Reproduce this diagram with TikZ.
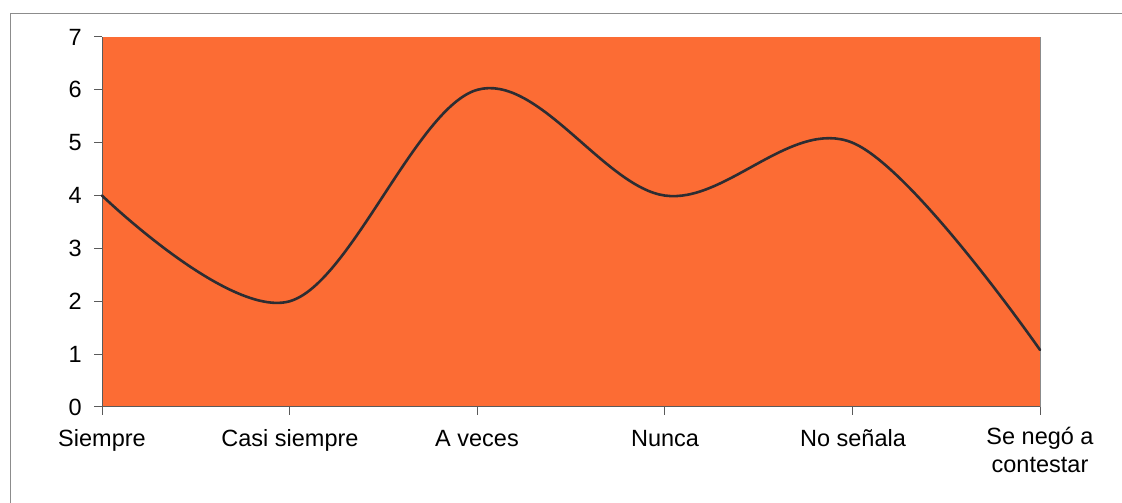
\documentclass[tikz,border=0pt]{standalone}
\usepackage{fontspec}
\setmainfont{Liberation Sans}
\definecolor{plotfill}{RGB}{252,108,52}
\definecolor{axisgray}{RGB}{90,90,90}
\definecolor{curvecol}{RGB}{45,45,50}
\definecolor{framegray}{RGB}{140,140,140}
\begin{document}
\begin{tikzpicture}[x=1pt,y=1pt,
  lbl/.style={font=\fontsize{23.5}{28}\selectfont, text=black, inner sep=0pt},
  tickline/.style={draw=axisgray, line width=1pt},
  curveline/.style={draw=curvecol, line width=2.6pt, line cap=round}]
\useasboundingbox (0,0) rectangle (1122,503);
% outer frame (top and left edges)
\draw[framegray, line width=1pt] (10,0) -- (10,489) -- (1122,489);
% plot area  (x: 102..1040, y0=96, unit 52.86)
\def\ux{187.6}
\def\uy{52.86}
\fill[plotfill] (102,96) rectangle (1040,466);
\draw[axisgray, line width=1pt] (102,466) -- (102,96) -- (1040,96);
\draw[axisgray!70, line width=0.8pt] (1040,96) -- (1040,466);
% y ticks and labels
\foreach \v in {0,...,7}{
  \draw[tickline] (94,{96+\v*\uy}) -- (102,{96+\v*\uy});
  \node[lbl, anchor=east] (y\v) at (82,{96+\v*\uy}) {\v};
}
% x ticks
\foreach \i in {0,...,5}{
  \draw[tickline] ({102+\i*\ux},88) -- ({102+\i*\ux},96);
}
% category labels
\node[lbl, anchor=base] (c0) at (102,56) {Siempre};
\node[lbl, anchor=base] (c1) at (290,56) {Casi siempre};
\node[lbl, anchor=base] (c2) at (477,56) {A veces};
\node[lbl, anchor=base] (c3) at (665,56) {Nunca};
\node[lbl, anchor=base] (c4) at (853,56) {No señala};
\node[lbl, anchor=base, align=center] (c5) at (1040,30) {Se negó a\\contestar};
% curve
\draw[curveline] plot[smooth, tension=0.58] coordinates {
  (102,{96+4*\uy}) (289.6,{96+2*\uy}) (477.2,{96+6*\uy})
  (664.8,{96+4*\uy}) (852.4,{96+5*\uy}) (1040,{96+1.08*\uy})};
\end{tikzpicture}
\end{document}
